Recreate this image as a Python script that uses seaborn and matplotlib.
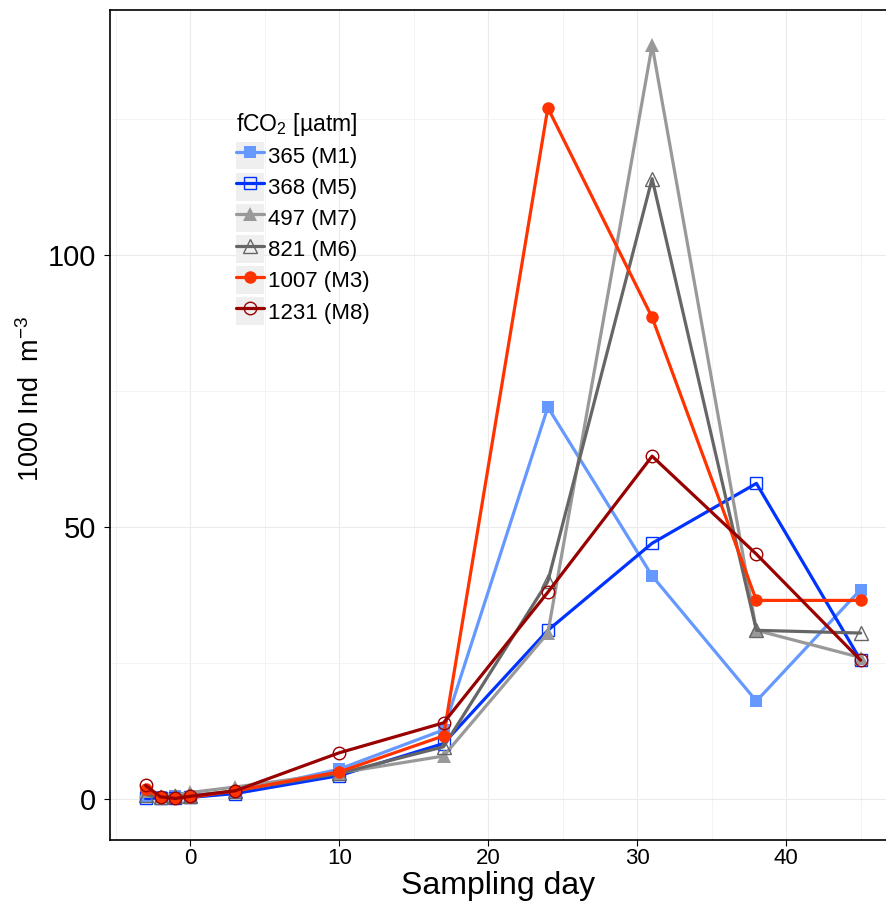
import matplotlib
matplotlib.use("Agg")
import matplotlib.pyplot as plt
from matplotlib.lines import Line2D
from matplotlib.patches import Rectangle
from matplotlib.legend_handler import HandlerTuple
from matplotlib.ticker import MultipleLocator
import seaborn as sns
import pandas as pd

# sampling days and abundances (1000 Ind m^-3)
days = [-3, -2, -1, 0, 3, 10, 17, 24, 31, 38, 45]

m1 = [0.5, 0.3, 0.5, 0.3, 1.2, 5.5, 12.7, 72.0, 41.0, 18.0, 38.5]
m5 = [0.1, 0.2, 0.2, 0.3, 1.0, 4.3, 10.2, 31.0, 47.0, 58.0, 25.5]
m7 = [1.5, 0.6, 0.8, 1.2, 2.2, 4.8, 7.9, 30.5, 138.5, 31.0, 26.0]
m6 = [0.8, 0.4, 0.5, 0.6, 1.5, 4.7, 9.6, 40.0, 114.0, 31.0, 30.5]
m3 = [1.8, 0.3, 0.2, 0.3, 1.5, 5.0, 11.6, 127.0, 88.5, 36.5, 36.5]
m8 = [2.5, 0.4, 0.1, 0.5, 1.5, 8.5, 14.0, 38.0, 63.0, 45.0, 25.5]

labels = ["365 (M1)", "368 (M5)", "497 (M7)", "821 (M6)", "1007 (M3)", "1231 (M8)"]
series = [m1, m5, m7, m6, m3, m8]
colors = ["#6699FF", "#0033FF", "#999999", "#666666", "#FF3300", "#990000"]
markers = ["s", "s", "^", "^", "o", "o"]
filled = [True, False, True, False, True, False]

df = pd.concat(
    [pd.DataFrame({"day": days, "abundance": vals, "treatment": lab})
     for lab, vals in zip(labels, series)],
    ignore_index=True,
)

sns.set_style("white")
plt.rcParams["font.family"] = ["Liberation Sans", "DejaVu Sans"]
plt.rcParams["mathtext.default"] = "regular"
plt.rcParams["text.color"] = "black"
plt.rcParams["axes.labelcolor"] = "black"
plt.rcParams["xtick.color"] = "black"
plt.rcParams["ytick.color"] = "black"

fig = plt.figure(figsize=(8.86, 9.05), dpi=100)
ax = fig.add_axes([0.124, 0.072, 0.876, 0.917])

handles = []
for lab, col, mk, fl in zip(labels, colors, markers, filled):
    sub = df[df["treatment"] == lab]
    style = dict(marker=mk, markersize=10 if mk == "^" else 9,
                 markeredgecolor=col,
                 markerfacecolor=col if fl else "none",
                 markeredgewidth=0 if fl else 1.0)
    sns.lineplot(data=sub, x="day", y="abundance", color=col, linewidth=2.3,
                 ax=ax, legend=False, **style)
    # grey key background like the ggplot legend keys
    key_bg = Rectangle((0, 0), 1, 1, facecolor="#EFEFEF", edgecolor="none")
    key_line = Line2D([], [], color=col, linewidth=2.3, **style)
    handles.append((key_bg, key_line))

ax.set_xlim(-5.4, 46.7)
ax.set_ylim(-7.5, 145)
ax.xaxis.set_major_locator(MultipleLocator(10))
ax.xaxis.set_minor_locator(MultipleLocator(5))
ax.yaxis.set_major_locator(MultipleLocator(50))
ax.yaxis.set_minor_locator(MultipleLocator(25))
ax.grid(True, which="major", color="#EBEBEB", linewidth=0.8)
ax.grid(True, which="minor", color="#F2F2F2", linewidth=0.6)
ax.set_axisbelow(True)

for side in ["left", "top", "bottom"]:
    ax.spines[side].set_color("black")
    ax.spines[side].set_linewidth(1.2)
ax.spines["right"].set_visible(False)

ax.tick_params(which="major", direction="out", length=4, width=0.8,
               color="black", bottom=True, left=True)
ax.tick_params(which="minor", length=0)
ax.tick_params(axis="x", labelsize=16, pad=2)
ax.tick_params(axis="y", labelsize=21, pad=6)

ax.set_xlabel("Sampling day", fontsize=23, labelpad=1)
ax.set_ylabel("1000 Ind  m$^{-3}$", fontsize=19.5, labelpad=2)
ax.yaxis.label.set_y(0.532)

leg = ax.legend(handles, labels, handler_map={tuple: HandlerTuple(ndivide=1, pad=0)},
                title="fCO$_2$ [µatm]", loc="upper left",
                bbox_to_anchor=(0.162, 0.878), frameon=False, fontsize=16,
                title_fontsize=16.5, handlelength=1.3, handleheight=1.55,
                labelspacing=0.15, handletextpad=0.15, borderpad=0, borderaxespad=0)
leg._legend_box.align = "left"

fig.savefig("out.png", dpi=100)
